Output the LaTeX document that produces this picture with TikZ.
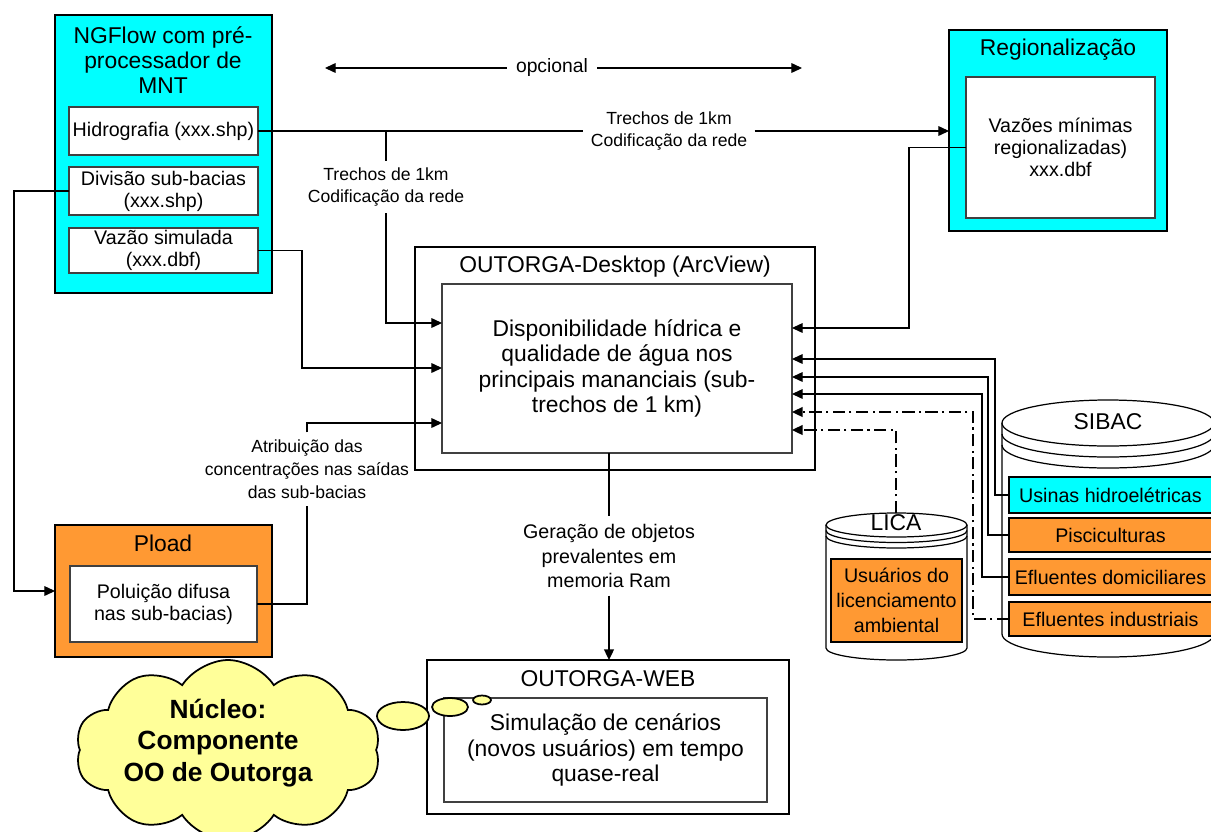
\documentclass[tikz,border=0pt]{standalone}
\usepackage{fontspec}
\setmainfont{Liberation Sans}
\usetikzlibrary{arrows.meta,shapes.symbols}

\definecolor{ngcyan}{RGB}{0,255,255}
\definecolor{plorange}{RGB}{255,153,51}
\definecolor{nucyellow}{RGB}{255,255,153}

\newcommand{\bigtxt}{\fontsize{13pt}{14.4pt}\selectfont}
\newcommand{\midtxt}{\fontsize{11.2pt}{12.5pt}\selectfont}
\newcommand{\smalltxt}{\fontsize{10pt}{12pt}\selectfont}

\tikzset{
  span/.style n args={4}{at={({(#1+#3)/2},{(#2+#4)/2})}, minimum width={(#3-#1)*0.02cm}, minimum height={(#4-#2)*0.02cm}},
  outerbox/.style={draw, line width=1.1pt, inner sep=0pt, outer sep=0pt},
  innerbox/.style={draw=black!75, line width=0.6pt, fill=white, inner sep=0pt, outer sep=0pt, align=center, font=\midtxt},
  boxtitle/.style={font=\bigtxt, align=center, inner sep=0pt},
  lbl/.style={font=\smalltxt, align=center, fill=white, inner sep=4pt},
  wire/.style={line width=0.6pt},
  feed/.style={wire, ->},
  dashfeed/.style={line width=1.1pt, dash pattern=on 7pt off 2.5pt on 1.2pt off 2.5pt, ->},
  drum/.style={draw, line width=0.7pt, fill=white},
}

\begin{document}
\begin{tikzpicture}[x=0.02cm, y=-0.02cm, >={Triangle[length=6pt,width=5.5pt]}]
\useasboundingbox (0,0) rectangle (1211,832);

\node[lbl, font=\fontsize{11pt}{13pt}\selectfont, inner sep=5pt] (opc) at (552,68) {opcional};
\coordinate (opcL) at (325,68);
\coordinate (opcR) at (802,68);
\draw[feed] (opc) -- (opcL);
\draw[feed] (opc) -- (opcR);

% NGFlow
\node[outerbox, fill=ngcyan, span={55}{15}{272}{293}] (ngflow) {};
\node[boxtitle] (ngflowT) at (163,60) {NGFlow com pré-\\processador de\\MNT};
\node[innerbox, span={69}{107}{258}{155}] (hidro) {Hidrografia (xxx.shp)};
\node[innerbox, span={69}{167}{258}{215}] (divisao) {Divisão sub-bacias\\(xxx.shp)};
\node[innerbox, span={69}{228}{258}{273}] (vazao) {Vazão simulada\\(xxx.dbf)};

% Regionalizacao
\node[outerbox, fill=ngcyan, span={949}{30}{1167}{231}] (regional) {};
\node[boxtitle] (regionalT) at (1058,50) {Regionalização};
\node[innerbox, span={966}{77}{1155}{218}] (regin) {Vazões mínimas\\regionalizadas)\\xxx.dbf};

% OUTORGA
\node[lbl, font=\fontsize{10pt}{13pt}\selectfont, inner xsep=1pt] (atrib) at (307,469) {Atribuição das\\concentrações nas saídas\\das sub-bacias};
\node[outerbox, line width=1.4pt, span={415}{247}{815}{470}] (desk) {};
\node[boxtitle] (deskT) at (615,267) {OUTORGA-Desktop (ArcView)};
\node[innerbox, font=\bigtxt, span={442}{284}{792}{453}] (deskin) {Disponibilidade hídrica e\\qualidade de água nos\\principais mananciais (sub-\\trechos de 1 km)};

\node[outerbox, line width=1.4pt, span={427}{660}{789}{814}] (web) {};
\node[boxtitle] (webT) at (608,679) {OUTORGA-WEB};
\node[innerbox, font=\bigtxt, span={444}{698}{767}{802}] (webin) {Simulação de cenários\\(novos usuários) em tempo\\quase-real};

% Pload
\node[outerbox, fill=plorange, span={55}{525}{272}{657}] (pload) {};
\node[boxtitle] (ploadT) at (163,543) {Pload};
\node[innerbox, span={70}{566}{257}{642}] (polui) {Poluição difusa\\nas sub-bacias)};

% SIBAC
\filldraw[drum] (1002,423) -- (1002,634) arc[start angle=180, end angle=0, x radius=106, y radius=23] -- (1214,423);
\draw[drum] (1108,423) ellipse[x radius=106, y radius=23];
\draw[drum, fill=none] (1002,434) arc[start angle=180, end angle=0, x radius=106, y radius=23];
\draw[drum, fill=none] (1002,445) arc[start angle=180, end angle=0, x radius=106, y radius=23];
\node[boxtitle] (sibacT) at (1108,422) {SIBAC};
\node[innerbox, draw=black, fill=ngcyan, span={1009}{477}{1212}{513}] (usinas) {Usinas hidroelétricas};
\node[innerbox, draw=black, fill=plorange, span={1009}{518}{1212}{552}] (pisc) {Pisciculturas};
\node[innerbox, draw=black, fill=plorange, span={1009}{559}{1212}{595}] (efdom) {Efluentes domiciliares};
\node[innerbox, draw=black, fill=plorange, span={1009}{602}{1212}{636}] (efind) {Efluentes industriais};

% LICA
\filldraw[drum] (826,525) -- (826,648) arc[start angle=180, end angle=0, x radius=70.5, y radius=12] -- (967,525);
\draw[drum] (896.5,525) ellipse[x radius=70.5, y radius=12];
\draw[drum, fill=none] (826,530.5) arc[start angle=180, end angle=0, x radius=70.5, y radius=12];
\draw[drum, fill=none] (826,536) arc[start angle=180, end angle=0, x radius=70.5, y radius=12];
\node[boxtitle] (licaT) at (896,523) {LICA};
\node[innerbox, draw=black, fill=plorange, font=\fontsize{11.2pt}{14.2pt}\selectfont, span={831}{559}{962}{642}] (licain) {Usuários do\\licenciamento\\ambiental};
\coordinate (licaTop) at (896,513);

% Nucleo
\node[cloud, cloud puffs=10, cloud puff arc=115, cloud ignores aspect, draw, line width=1pt, fill=nucyellow, inner sep=0pt, minimum width=6.1cm, minimum height=3.6cm] (nucleo) at (228,750) {};
\node[font=\bfseries\fontsize{15pt}{17.9pt}\selectfont, align=center] (nucleoT) at (218,743) {Núcleo:\\Componente\\OO de Outorga};
\filldraw[line width=1pt, fill=nucyellow] (403,716) ellipse[x radius=26, y radius=14];
\filldraw[line width=1pt, fill=nucyellow] (450,707) ellipse[x radius=18, y radius=9];
\filldraw[line width=1pt, fill=nucyellow] (482,700) ellipse[x radius=9, y radius=4.5];

% ligacoes
\node[lbl] (trechosA) at (669,131) {Trechos de 1km\\Codificação da rede};
\node[lbl] (trechosB) at (386,187) {Trechos de 1km\\Codificação da rede};
\coordinate (brH) at (386,131);
\coordinate (kH) at (386,323);
\draw[wire] (hidro.east) -- (trechosA);
\draw[feed] (trechosA) -- (trechosA -| regional.west);
\draw[wire] (brH) -- (trechosB);
\draw[feed] (trechosB) -- (kH) -- (kH -| deskin.west);

\coordinate (kV) at (302,368);
\draw[feed] (vazao.east) -| (kV) -- (kV -| deskin.west);

\coordinate (kA) at (307,423);
\draw[wire] (polui.east) -| (atrib);
\draw[feed] (atrib) -- (kA) -- (kA -| deskin.west);

\coordinate (kD) at (14,591);
\draw[feed] (divisao.west) -| (kD) -- (pload);

\coordinate (kR) at (909,328);
\coordinate (kU) at (995,359);
\coordinate (kPi) at (988,377);
\coordinate (kEd) at (982,394);
\coordinate (kEi) at (973,412);
\coordinate (kL) at (896,430);
\draw[feed] (regin.west) -| (kR) -- (kR -| deskin.east);
\draw[feed] (usinas.west) -| (kU) -- (kU -| deskin.east);
\draw[feed] (pisc.west) -| (kPi) -- (kPi -| deskin.east);
\draw[feed] (efdom.west) -| (kEd) -- (kEd -| deskin.east);
\draw[dashfeed] (efind.west) -| (kEi) -- (kEi -| deskin.east);
\draw[dashfeed] (licaTop) -- (kL) -- (kL -| deskin.east);

\node[lbl, font=\fontsize{11.2pt}{14.2pt}\selectfont] (gera) at (609,556) {Geração de objetos\\prevalentes em\\memoria Ram};
\draw[wire, line width=1.1pt] (deskin.south -| gera) -- (gera);
\draw[feed, line width=1.1pt] (gera) -- (gera |- web.north);

\end{tikzpicture}
\end{document}
